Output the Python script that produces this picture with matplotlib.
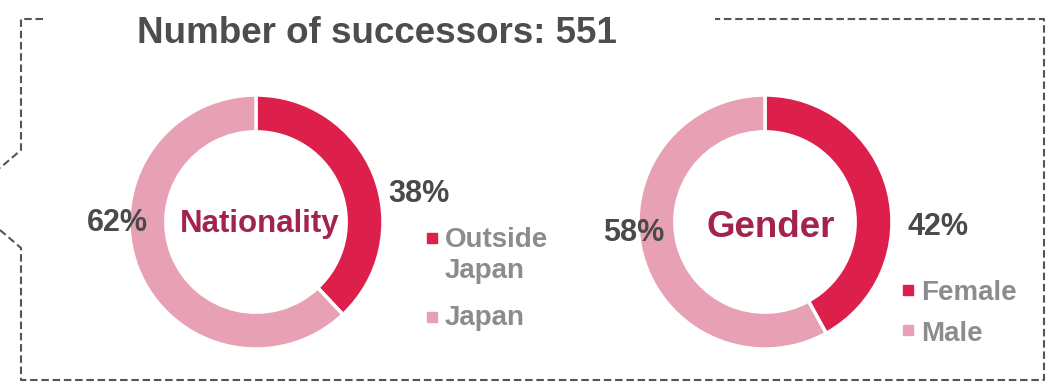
import matplotlib
matplotlib.use("Agg")
import matplotlib.pyplot as plt

plt.rcParams['font.family'] = ['Liberation Sans', 'DejaVu Sans']

title = "Number of successors: 551"
nat_labels = ["Outside\nJapan", "Japan"]
nat_values = [38, 62]
gen_labels = ["Female", "Male"]
gen_values = [42, 58]
colors = ["#DC1F4B", "#E8A0B4"]

W, H = 1050, 382
fig = plt.figure(figsize=(W / 100, H / 100), dpi=100)
ax = fig.add_axes([0, 0, 1, 1])
ax.set_xlim(0, W)
ax.set_ylim(0, H)
ax.set_aspect('equal')
ax.axis('off')

def Y(y):
    return H - y

# dashed frame
frame_kw = dict(color="#555555", lw=1.5, ls=(0, (3.6, 1.8)), solid_capstyle='butt')
ax.plot([43, 21, 21, 0], [Y(19), Y(19), Y(150), Y(168)], **frame_kw)
ax.plot([0, 21, 21, 1044, 1044, 715], [Y(230), Y(248), Y(380), Y(380), Y(19), Y(19)], **frame_kw)

ax.text(137, Y(43), title, ha='left', va='baseline', fontsize=26.5,
        fontweight='bold', color="#4D4D4F")

def donut(cx, cy, vals, r=127):
    ax.pie(vals, colors=colors, startangle=90, counterclock=False,
           center=(cx, Y(cy)), radius=r,
           wedgeprops=dict(width=r * 0.29, edgecolor='white', linewidth=2.5))

donut(256, 222, nat_values)
donut(765, 222, gen_values)
ax.set_xlim(0, W)
ax.set_ylim(0, H)

pct_kw = dict(ha='left', va='baseline', fontsize=22, fontweight='bold', color="#4A4A4A")
ax.text(388, Y(202), f"{nat_values[0]}%", **pct_kw)
ax.text(87, Y(231), f"{nat_values[1]}%", **pct_kw)
ax.text(907, Y(235), f"{gen_values[0]}%", **pct_kw)
ax.text(603, Y(241), f"{gen_values[1]}%", **pct_kw)

ax.text(180, Y(232), "Nationality", ha='left', va='baseline', fontsize=22.5,
        fontweight='bold', color="#A3234B")
ax.text(707, Y(237), "Gender", ha='left', va='baseline', fontsize=26.5,
        fontweight='bold', color="#A3234B")

leg_kw = dict(ha='left', va='baseline', fontsize=20, fontweight='bold', color="#8C8C8C")
def legend_item(mx, my, color, tx, ty, label, step=31):
    ax.plot([mx], [Y(my)], marker='s', ms=7, color=color, ls='none')
    for i, line in enumerate(label.split("\n")):
        ax.text(tx, Y(ty + i * step), line, **leg_kw)

legend_item(432, 238, colors[0], 445, 247, nat_labels[0])
legend_item(432, 317, colors[1], 445, 325, nat_labels[1])
legend_item(908, 290, colors[0], 921, 300, gen_labels[0])
legend_item(908, 330, colors[1], 921, 341, gen_labels[1])

fig.savefig("out.png", dpi=100)
